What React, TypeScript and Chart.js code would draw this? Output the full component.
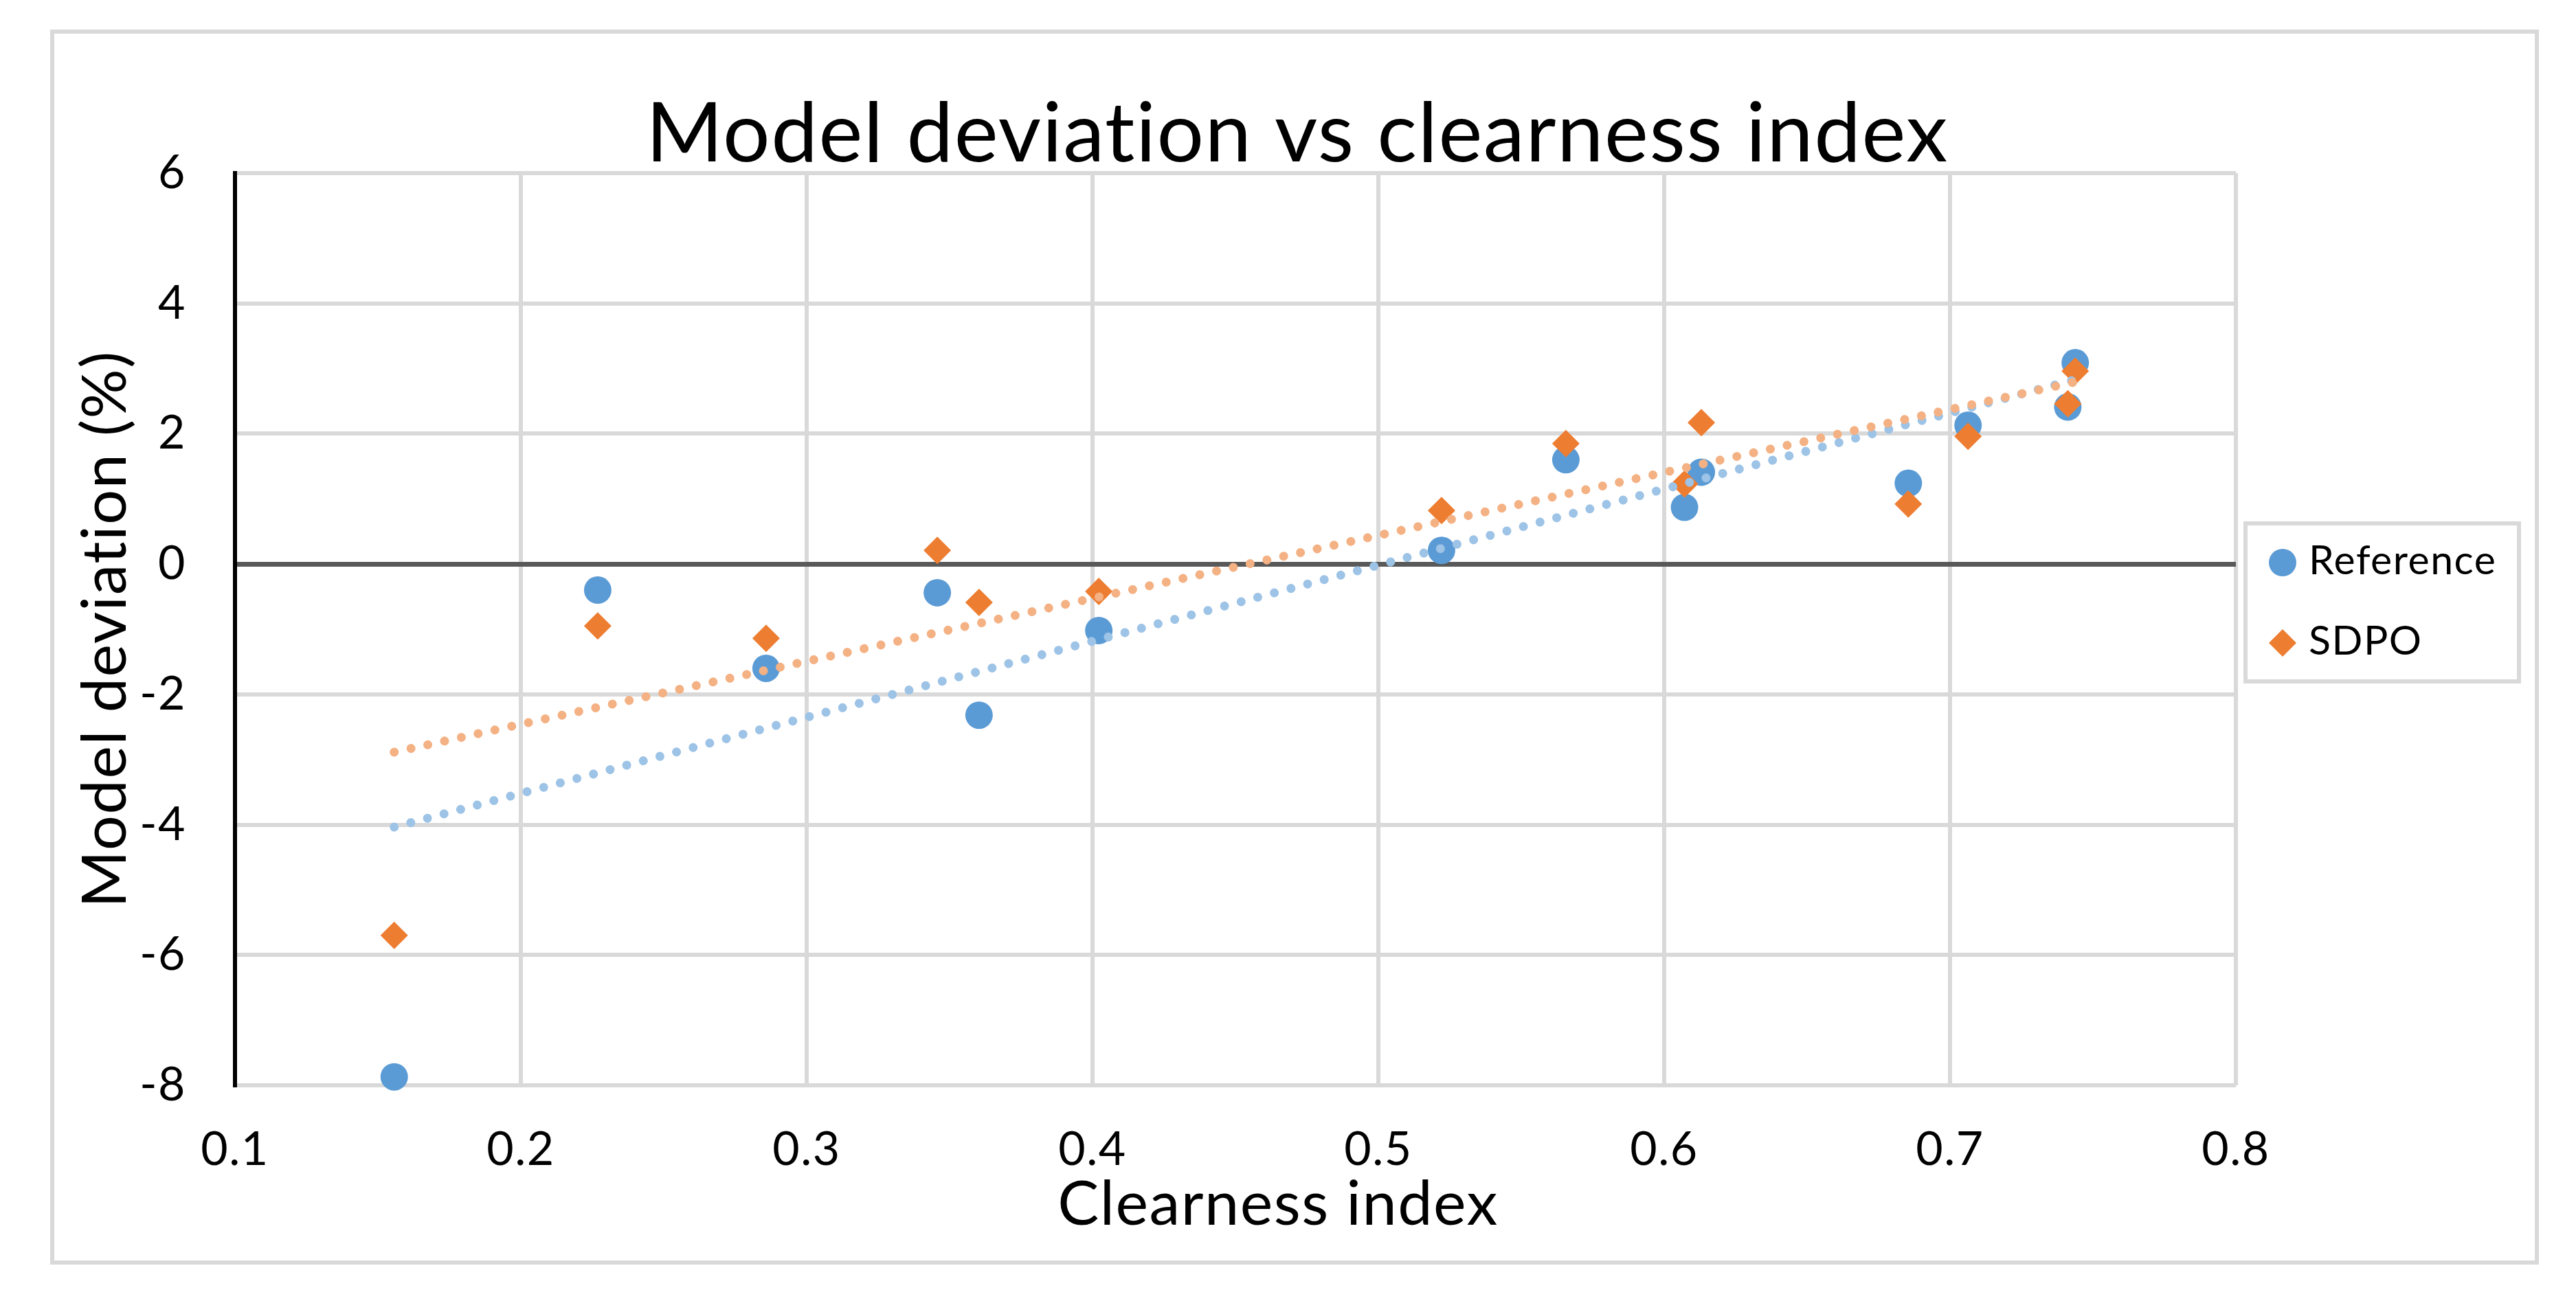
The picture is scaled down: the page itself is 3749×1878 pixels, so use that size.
import React, { useEffect, useRef } from 'react';
import { Chart, registerables } from 'chart.js';

Chart.register(...registerables);

// ---------- data ----------
const clearnessIndex = [0.1557, 0.2269, 0.2858, 0.3457, 0.3603, 0.4022, 0.5221, 0.5656, 0.6071, 0.613, 0.6854, 0.7063, 0.7412, 0.7438];
const referenceDeviation = [-7.87, -0.4, -1.6, -0.44, -2.32, -1.02, 0.21, 1.6, 0.87, 1.41, 1.24, 2.13, 2.41, 3.09];
const sdpoDeviation = [-5.7, -0.95, -1.14, 0.21, -0.59, -0.42, 0.82, 1.85, 1.23, 2.17, 0.92, 1.96, 2.46, 2.96];
const seriesNames = ['Reference', 'SDPO'];
const xTickValues = [0.1, 0.2, 0.3, 0.4, 0.5, 0.6, 0.7, 0.8];
const yTickValues = [-8, -6, -4, -2, 0, 2, 4, 6];
const chartTitle = 'Model deviation vs clearness index';
const xAxisTitle = 'Clearness index';
const yAxisTitle = 'Model deviation (%)';

// ---------- styles ----------
const W = 3749;
const H = 1878;
const FONT = 'Lato';
const LETTER_SPACING = '1.5px';
const BLUE = '#5B9BD5';
const ORANGE = '#ED7D31';
const BLUE_TREND = '#9DC3E6';
const ORANGE_TREND = '#F4B183';
const GRID = '#D9D9D9';

function toPoints(xs: number[], ys: number[]) {
  return xs.map((x, i) => ({ x, y: ys[i] }));
}

// least-squares linear trendline (as Excel's linear trendline)
function trendline(xs: number[], ys: number[]) {
  const n = xs.length;
  const mx = xs.reduce((a, b) => a + b, 0) / n;
  const my = ys.reduce((a, b) => a + b, 0) / n;
  let sxy = 0;
  let sxx = 0;
  for (let i = 0; i < n; i++) {
    sxy += (xs[i] - mx) * (ys[i] - my);
    sxx += (xs[i] - mx) * (xs[i] - mx);
  }
  const slope = sxy / sxx;
  const intercept = my - slope * mx;
  const lo = Math.min(...xs);
  const hi = Math.max(...xs);
  return [
    { x: lo, y: intercept + slope * lo },
    { x: hi, y: intercept + slope * hi },
  ];
}

function setSpacing(chart: any) {
  const ctx = chart.ctx as any;
  if (ctx && 'letterSpacing' in ctx) ctx.letterSpacing = LETTER_SPACING;
}

const framePlugin = {
  id: 'frame',
  beforeUpdate(chart: any) {
    setSpacing(chart);
  },
  beforeDraw(chart: any) {
    setSpacing(chart);
    const ctx = chart.ctx;
    ctx.save();
    ctx.fillStyle = '#ffffff';
    ctx.fillRect(0, 0, chart.width, chart.height);
    ctx.strokeStyle = GRID;
    ctx.lineWidth = 6;
    ctx.strokeRect(76, 46, 3616, 1792);
    ctx.restore();
  },
  afterDraw(chart: any) {
    const ctx = chart.ctx;
    ctx.save();
    // chart title
    ctx.fillStyle = '#000000';
    ctx.font = `121px ${FONT}`;
    ctx.textAlign = 'center';
    ctx.textBaseline = 'alphabetic';
    ctx.fillText(chartTitle, 1888, 235);

    // x axis title
    ctx.font = `90px ${FONT}`;
    ctx.textBaseline = 'middle';
    ctx.fillText(xAxisTitle, 1860, 1754);

    // legend
    ctx.strokeStyle = GRID;
    ctx.lineWidth = 6;
    ctx.strokeRect(3268, 762, 398, 230);
    const items = [
      { label: seriesNames[0], color: BLUE, shape: 'circle', y: 819 },
      { label: seriesNames[1], color: ORANGE, shape: 'diamond', y: 936 },
    ];
    const mx = 3322;
    const r = 20;
    ctx.font = `59px ${FONT}`;
    ctx.textAlign = 'left';
    ctx.textBaseline = 'middle';
    for (const it of items) {
      ctx.fillStyle = it.color;
      ctx.beginPath();
      if (it.shape === 'circle') {
        ctx.arc(mx, it.y, r, 0, Math.PI * 2);
      } else {
        ctx.moveTo(mx - r, it.y);
        ctx.lineTo(mx, it.y - r);
        ctx.lineTo(mx + r, it.y);
        ctx.lineTo(mx, it.y + r);
        ctx.closePath();
      }
      ctx.fill();
      ctx.fillStyle = '#000000';
      ctx.fillText(it.label, 3360, it.y - 2);
    }
    ctx.restore();
  },
};

export default function App() {
  const ref = useRef<HTMLCanvasElement>(null);

  useEffect(() => {
    document.body.style.margin = '0';
    const canvas = ref.current;
    if (!canvas) return;

    const chart = new Chart(canvas, {
      type: 'scatter',
      data: {
        datasets: [
          {
            label: seriesNames[0],
            data: toPoints(clearnessIndex, referenceDeviation),
            pointStyle: 'circle',
            pointRadius: 20,
            pointHoverRadius: 20,
            pointBackgroundColor: BLUE,
            pointBorderWidth: 0,
            backgroundColor: BLUE,
            borderColor: BLUE,
            showLine: false,
            order: 3,
            clip: false,
          },
          {
            label: seriesNames[1],
            data: toPoints(clearnessIndex, sdpoDeviation),
            pointStyle: 'rectRot',
            pointRadius: 20,
            pointHoverRadius: 20,
            pointBackgroundColor: ORANGE,
            pointBorderWidth: 0,
            backgroundColor: ORANGE,
            borderColor: ORANGE,
            showLine: false,
            order: 2,
            clip: false,
          },
          {
            label: 'Linear (' + seriesNames[0] + ')',
            data: trendline(clearnessIndex, referenceDeviation),
            showLine: true,
            pointRadius: 0,
            borderColor: BLUE_TREND,
            borderWidth: 13,
            borderDash: [0.01, 25],
            borderCapStyle: 'round',
            fill: false,
            order: 1,
            clip: false,
          },
          {
            label: 'Linear (' + seriesNames[1] + ')',
            data: trendline(clearnessIndex, sdpoDeviation),
            showLine: true,
            pointRadius: 0,
            borderColor: ORANGE_TREND,
            borderWidth: 13,
            borderDash: [0.01, 25],
            borderCapStyle: 'round',
            fill: false,
            order: 0,
            clip: false,
          },
        ] as any,
      },
      options: {
        animation: false,
        responsive: false,
        devicePixelRatio: 1,
        events: [],
        layout: { padding: { left: 100, top: 252, right: 495, bottom: 75 } },
        plugins: {
          legend: { display: false },
          title: { display: false },
          tooltip: { enabled: false },
        },
        scales: {
          x: {
            type: 'linear',
            min: 0.1,
            max: 0.8,
            afterBuildTicks: (scale: any) => {
              scale.ticks = xTickValues.map((v) => ({ value: v }));
            },
            afterFit: (scale: any) => {
              scale.height = 223;
            },
            grid: {
              color: GRID,
              lineWidth: 6,
              drawTicks: false,
            },
            border: { display: false },
            ticks: {
              color: '#000000',
              font: { family: FONT, size: 68 },
              padding: 53,
              maxRotation: 0,
              autoSkip: false,
              callback: (v: any) => Number(v).toFixed(1),
            },
            title: { display: false, text: xAxisTitle },
          },
          y: {
            type: 'linear',
            min: -8,
            max: 6,
            afterBuildTicks: (scale: any) => {
              scale.ticks = yTickValues.map((v) => ({ value: v }));
            },
            afterFit: (scale: any) => {
              scale.width = 242;
            },
            grid: {
              color: (c: any) => (c.tick && c.tick.value === 0 ? '#595959' : GRID),
              lineWidth: (c: any) => (c.tick && c.tick.value === 0 ? 7 : 6),
              drawTicks: false,
            },
            border: { display: true, color: '#000000', width: 6 },
            ticks: {
              color: '#000000',
              font: { family: FONT, size: 68 },
              padding: 71,
              autoSkip: false,
              callback: (v: any) => String(v),
            },
            title: {
              display: true,
              text: yAxisTitle,
              color: '#000000',
              font: { family: FONT, size: 90 },
              padding: 0,
            },
          },
        },
      } as any,
      plugins: [framePlugin],
    });

    return () => chart.destroy();
  }, []);

  return (
    <div style={{ position: 'absolute', left: 0, top: 0, width: W, height: H, background: '#ffffff' }}>
      <canvas ref={ref} width={W} height={H} style={{ display: 'block', width: W, height: H }} />
    </div>
  );
}
